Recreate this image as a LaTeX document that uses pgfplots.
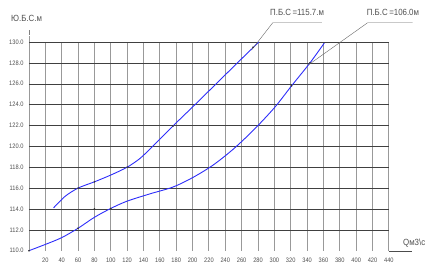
\documentclass[border=0pt]{standalone}
\usepackage{fontspec}
\setmainfont{Liberation Sans}
\newfontfamily\narrowf{Liberation Sans}[FakeStretch=0.88]
\usepackage{pgfplots}
\pgfplotsset{compat=1.18}
\definecolor{curve}{RGB}{45,45,250}
\definecolor{txt}{RGB}{80,80,80}
\begin{document}
\begin{tikzpicture}
\begin{axis}[
  scale only axis, width=360bp, height=208.7bp,
  xmin=0, xmax=440, ymin=110, ymax=130,
  clip=false,
  axis line style={draw=none},
  tick style={draw=none},
  xtick={0,20,...,440},
  xticklabels={,20,40,60,80,100,120,140,160,180,200,220,240,260,280,300,320,340,360,380,400,420,440},
  ytick={112,114,...,130},
  extra y ticks={110},
  extra y tick style={grid=none},
  xmajorgrids, ymajorgrids,
  x grid style={black!40, line width=0.9pt},
  y grid style={black!75, line width=0.5pt},
  /pgf/number format/assume math mode=true,
  yticklabel style={/pgf/number format/fixed, /pgf/number format/fixed zerofill, /pgf/number format/precision=1, xshift=-2pt},
  ticklabel style={font=\narrowf\fontsize{6.5}{7}\selectfont, text=txt},
  xticklabel style={yshift=-4pt},
]
\addplot[curve, line width=0.9pt, smooth] coordinates {
  (30,114.1) (44,115.2) (60,116.0) (80,116.6) (100,117.25) (120,118.0) (135,118.8)
  (148,119.75) (176,121.95) (201,123.85) (225,125.7) (258,128.25) (281,130)};
\addplot[curve, line width=0.9pt, smooth] coordinates {
  (0,110) (20,110.6) (40,111.25) (60,112.15) (80,113.2) (100,114.05) (120,114.75)
  (148,115.45) (176,116.1) (200,117.0) (225,118.2) (250,119.75) (275,121.6)
  (300,123.7) (321,125.8) (343.5,128.0) (361,129.9)};
\addplot[only marks, mark=*, mark size=0.6pt, black!80] coordinates {
  (100,118) (80,114) (60,116.0) (80,116.6) (120,118.0) (176,121.95) (274,129.5)
  (60,112.15) (100,114.05) (321,125.8) (343.5,128) (0,110)};
\draw[black!60, line width=0.4pt] (axis cs:272,129.23) -- (axis cs:298,131.85) -- (axis cs:358,131.85);
\draw[black!60, line width=0.4pt] (axis cs:341.4,127.8) -- (axis cs:414,131.85) -- (axis cs:469,131.85);
\node[anchor=west, inner sep=0pt, text=txt, font=\narrowf\fontsize{9}{10}\selectfont] at (axis cs:294.6,132.8) {П.Б.С\,=115.7.м};
\node[anchor=west, inner sep=0pt, text=txt, font=\narrowf\fontsize{9}{10}\selectfont] at (axis cs:412.8,132.8) {П.Б.С\,=106.0м};
\node[anchor=west, inner sep=0pt, text=txt, font=\narrowf\fontsize{9}{10}\selectfont] at (axis cs:-22,132.3) {Ю.Б.С.м};
\node[anchor=west, inner sep=0pt, text=txt, font=\narrowf\fontsize{9}{10}\selectfont] at (axis cs:457.2,110.76) {Qм3\textbackslash с};
\draw[black!70, line width=0.5pt] (axis cs:440,109.9) -- (axis cs:468,109.9);
\draw[black!40, line width=0.9pt] (axis cs:0,130) -- (axis cs:0,130.6);
\draw[black!50, line width=0.5pt] (axis cs:0,130.7) -- (axis cs:0,131.2);
\path (axis cs:-35.45,134.03) rectangle (axis cs:497.6,107.47);
\end{axis}
\end{tikzpicture}
\end{document}
